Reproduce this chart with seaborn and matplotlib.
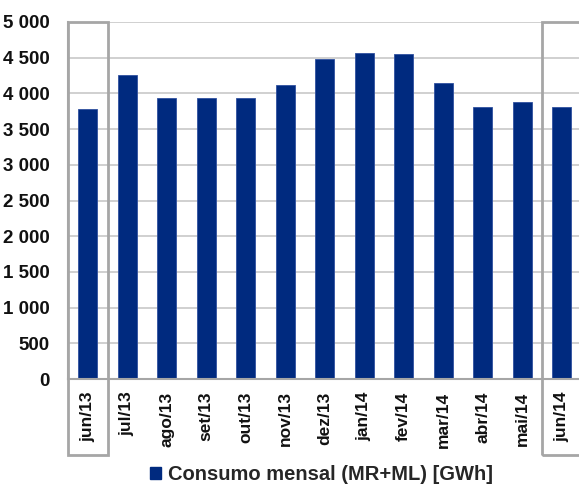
import matplotlib
matplotlib.use("Agg")
import matplotlib.pyplot as plt
import matplotlib.patches as mpatches
import matplotlib.transforms as mtrans
import seaborn as sns
import pandas as pd

months = ["jun/13", "jul/13", "ago/13", "set/13", "out/13", "nov/13", "dez/13",
          "jan/14", "fev/14", "mar/14", "abr/14", "mai/14", "jun/14"]
consumo = [3780, 4255, 3935, 3930, 3935, 4120, 4485, 4570, 4555, 4140, 3810, 3885, 3805]
yticks = [0, 500, 1000, 1500, 2000, 2500, 3000, 3500, 4000, 4500, 5000]
ytick_labels = ["0", "500", "1 000", "1 500", "2 000", "2 500", "3 000", "3 500", "4 000", "4 500", "5 000"]
legend_label = "Consumo mensal (MR+ML) [GWh]"

sns.set_theme(style="white")
plt.rcParams["font.family"] = ["Liberation Sans", "DejaVu Sans"]

bar_color = "#002A7F"
df = pd.DataFrame({"mes": months, "valor": consumo})

fig = plt.figure(figsize=(5.79, 4.88), dpi=100)
ax = fig.add_axes([68 / 579, 1 - 379 / 488, 513.5 / 579, (379 - 22) / 488])
sns.barplot(data=df, x="mes", y="valor", color=bar_color, width=0.48, ax=ax,
            saturation=1, edgecolor="#3050a0", linewidth=0.6)

ax.set_ylim(0, 5000)
ax.set_xlim(-0.5, len(months) - 0.5)
ax.set_yticks(yticks)
ax.set_yticklabels(ytick_labels, fontsize=13.5, fontweight="bold", color="#111111")
ax.set_xticks(range(len(months)))
ax.set_xticklabels(months, rotation=90, fontsize=12.5, fontweight="bold", color="#111111")
ax.tick_params(axis="y", length=0, pad=13)
ax.tick_params(axis="x", length=0, pad=9)
ax.set_xlabel("")
ax.set_ylabel("")
ax.yaxis.grid(True, color="#c8c8c8", linewidth=1.2)
ax.set_axisbelow(True)
for s in ["top", "right"]:
    ax.spines[s].set_visible(False)
ax.spines["left"].set_color("#a6a6a6")
ax.spines["left"].set_linewidth(1.5)
ax.spines["bottom"].set_color("#a6a6a6")
ax.spines["bottom"].set_linewidth(1.5)

# highlight boxes around first and last month (extending below axis)
trans = mtrans.blended_transform_factory(ax.transData, ax.transAxes)
bottom_ax = (379 - 455) / (379 - 22)
for x0 in (-0.5, len(months) - 1.5):
    rect = mpatches.Rectangle((x0, bottom_ax), 1.0, 1 - bottom_ax, transform=trans,
                              fill=False, edgecolor="#a6a6a6", linewidth=2,
                              clip_on=False, zorder=5)
    ax.add_patch(rect)

handle = mpatches.Patch(color=bar_color, label=legend_label)
fig.legend(handles=[handle], loc="center", bbox_to_anchor=(0.555, 1 - 475 / 488),
           frameon=False, prop={"size": 14.5, "weight": "bold"},
           handlelength=0.55, handleheight=0.55, handletextpad=0.35)

fig.savefig("out.png", dpi=100)
